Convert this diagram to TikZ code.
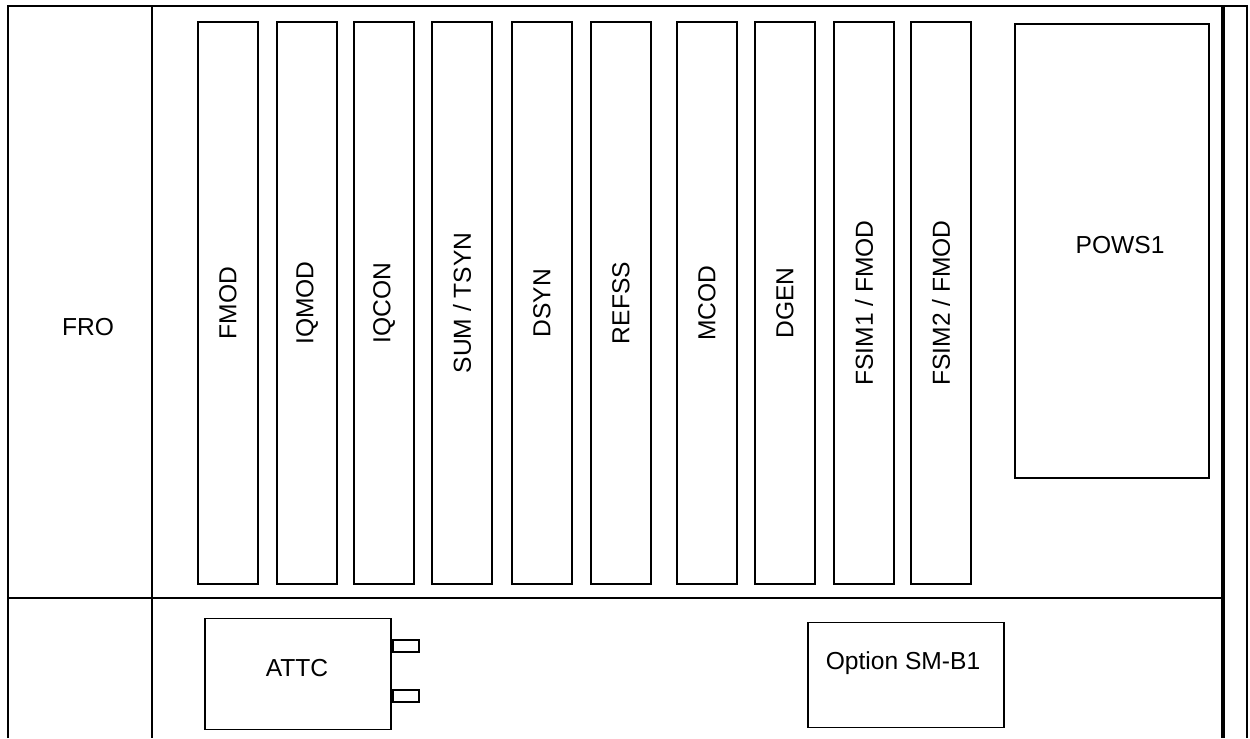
\documentclass[tikz,border=0pt]{standalone}
\usepackage{fontspec}
\setmainfont{Liberation Sans}
\begin{document}
\begin{tikzpicture}[x=0.02cm,y=-0.02cm,
  frame/.style={line width=1.2pt},
  thickframe/.style={line width=2.8pt},
  slot/.style={draw,line width=1.1pt,rotate=90,minimum width=11.26cm,minimum height=1.2cm,inner sep=0pt,font=\fontsize{14}{16}\selectfont},
  box/.style={draw,line width=1.1pt,inner sep=0pt,font=\fontsize{14}{16}\selectfont},
  plug/.style={draw,line width=1.1pt,inner sep=0pt,minimum width=0.52cm,minimum height=0.25cm}]
\useasboundingbox (0,0) rectangle (1250,738);
% frame
\draw[frame] (8,738) -- (8,6) -- (1247,6) -- (1247,738);
\draw[frame] (152,6) -- (152,738);
\draw[frame] (8,598) -- (1223,598);
\draw[thickframe] (1223,6) -- (1223,738);
\node[font=\fontsize{14}{16}\selectfont] (fro) at (88,327) {FRO};
% slots
\node[slot] (fmod)  at (228,303) {FMOD};
\node[slot] (iqmod) at (307,303) {IQMOD};
\node[slot] (iqcon) at (384,303) {IQCON};
\node[slot] (sum)   at (462,303) {SUM / TSYN};
\node[slot] (dsyn)  at (542,303) {DSYN};
\node[slot] (refss) at (621,303) {REFSS};
\node[slot] (mcod)  at (707,303) {MCOD};
\node[slot] (dgen)  at (785,303) {DGEN};
\node[slot] (fsim1) at (864,303) {FSIM1 / FMOD};
\node[slot] (fsim2) at (941,303) {FSIM2 / FMOD};
% POWS1
\node[box,minimum width=3.88cm,minimum height=9.08cm] (pows) at (1112,251) {};
\node[font=\fontsize{14}{16}\selectfont] (powst) at (1120,245) {POWS1};
% ATTC
\node[box,minimum width=3.72cm,minimum height=2.22cm] (attc) at (298,674) {};
\node[font=\fontsize{14}{16}\selectfont] (attct) at (297,668) {ATTC};
\node[plug,anchor=west] (p1) at (attc.east |- 0,646) {};
\node[plug,anchor=west] (p2) at (attc.east |- 0,696) {};
% Option
\node[box,minimum width=3.92cm,minimum height=2.1cm] (opt) at (906,675) {};
\node[font=\fontsize{14}{16}\selectfont] (optt) at (903,663) {Option SM-B1};
\end{tikzpicture}
\end{document}
